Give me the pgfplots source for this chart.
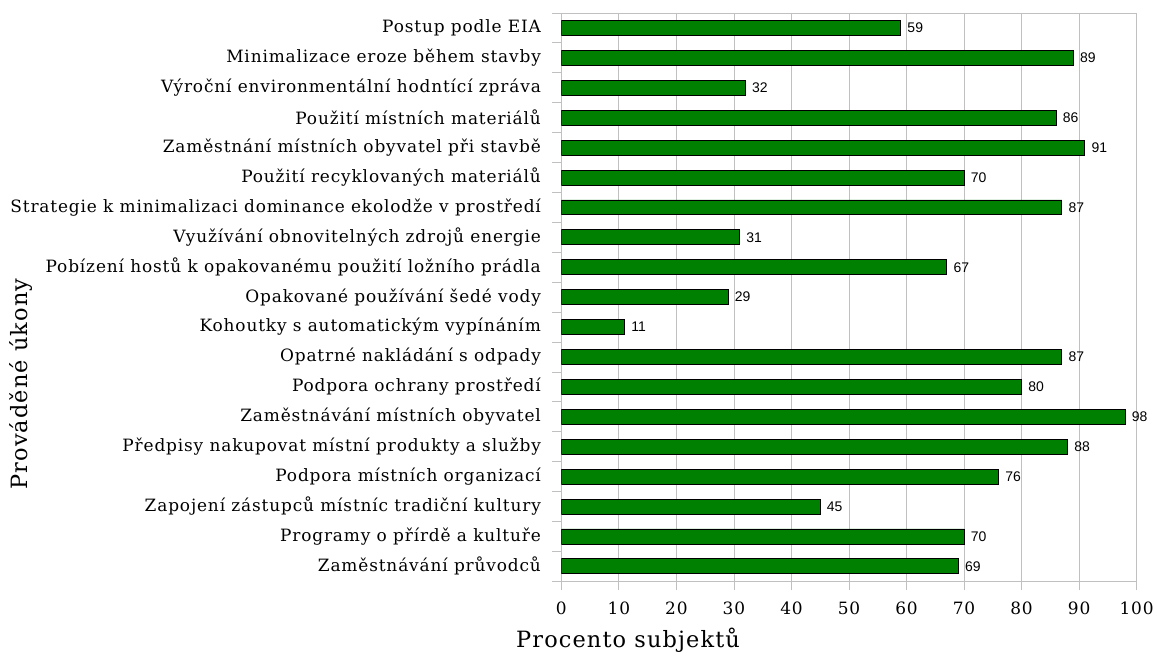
\documentclass[border=0pt]{standalone}
\usepackage{fontspec}
\setmainfont{DejaVu Serif}[LetterSpace=5]
\newfontfamily\arialf{Liberation Sans}
\usepackage{pgfplots}
\pgfplotsset{compat=1.18}
\definecolor{barg}{RGB}{0,128,0}
\definecolor{gridg}{RGB}{192,192,192}
\begin{document}
\begin{tikzpicture}
\begin{axis}[
  scale only axis, width=577pt, height=570pt,
  xmin=0, xmax=100, ymin=-0.5, ymax=18.5, y dir=reverse,
  xbar, bar width=15pt,
  xtick={0,10,...,100},
  ytick={-0.5,0.5,...,18.5}, yticklabels={},
  ytick pos=left, xtick pos=bottom,
  extra y ticks={0,1,...,18},
  extra y tick labels={Postup podle EIA, Minimalizace eroze během stavby, Výroční environmentální hodntící zpráva, Použití místních materiálů, Zaměstnání místních obyvatel při stavbě, Použití recyklovaných materiálů, Strategie k minimalizaci dominance ekolodže v prostředí, Využívání obnovitelných zdrojů energie, Pobízení hostů k opakovanému použití ložního prádla, Opakované používání šedé vody, Kohoutky s automatickým vypínáním, Opatrné nakládání s odpady, Podpora ochrany prostředí, Zaměstnávání místních obyvatel, Předpisy nakupovat místní produkty a služby, Podpora místních organizací, Zapojení zástupců místníc tradiční kultury, Programy o přírdě a kultuře, Zaměstnávání průvodců},
  extra y tick style={major tick length=0pt, grid=none, yticklabel style={xshift=-17pt}},
  major tick length=9pt, tick align=outside,
  tick style={gridg, line width=0.8pt},
  axis line style={gridg, line width=0.8pt},
  xmajorgrids, major grid style={gridg, line width=0.8pt},
  /pgf/number format/assume math mode=true,
  xticklabel style={font=\fontsize{17}{17}\selectfont, yshift=-8pt},
  yticklabel style={font=\fontsize{17}{17}\selectfont},
  xlabel={Procento subjektů},
  xlabel style={font=\fontsize{22.5}{22.5}\selectfont, at={(axis description cs:0.116,-0.104)}, anchor=center},
  ylabel={Prováděné úkony},
  ylabel style={font=\fontsize{22.5}{22.5}\selectfont, at={(axis description cs:-0.939,0.347)}, anchor=center},
  nodes near coords,
  nodes near coords style={font=\arialf\fontsize{14}{14}\selectfont, black, anchor=west, xshift=3pt},
]
\addplot[fill=barg, draw=black, line width=0.8pt] coordinates {
(59,0) (89,1) (32,2) (86,3) (91,4) (70,5) (87,6) (31,7) (67,8) (29,9)
(11,10) (87,11) (80,12) (98,13) (88,14) (76,15) (45,16) (70,17) (69,18)};
\end{axis}
\path ([xshift=-563pt,yshift=-78pt]current axis.south west) rectangle ([xshift=17pt,yshift=13pt]current axis.north east);
\end{tikzpicture}
\end{document}
